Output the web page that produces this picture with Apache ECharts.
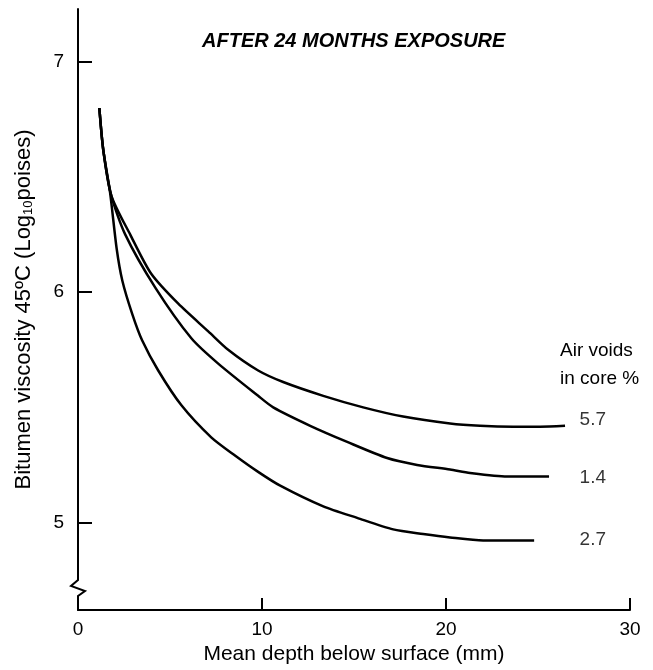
<!DOCTYPE html>
<html>
<head>
<meta charset="utf-8">
<script src="https://cdn.jsdelivr.net/npm/echarts@6/dist/echarts.min.js"></script>
<style>html,body{margin:0;padding:0;background:#fff}#c{width:653px;height:670px}</style>
</head>
<body>
<div id="c"></div>
<script>
// ---- data ----
const titleText = 'AFTER 24 MONTHS EXPOSURE';
const xTicks = [0, 10, 20, 30];
const yTicks = [5, 6, 7];
const legendHeading = 'Air voids\nin core %';
const voidNames = ['5.7', '1.4', '2.7'];

const depth57 = [1.16, 1.37, 1.81, 2.84, 3.98, 5.45, 7.08, 8.16, 9.79, 11.15, 13.33, 15.50, 17.67, 20.22, 21.85, 23.65, 25.11, 26.47];
const visc57  = [6.80, 6.62, 6.42, 6.25, 6.08, 5.95, 5.83, 5.75, 5.66, 5.61, 5.55, 5.50, 5.46, 5.43, 5.42, 5.416, 5.416, 5.42];

const depth14 = [1.16, 1.37, 1.81, 2.57, 4.20, 6.16, 7.62, 9.79, 10.61, 12.62, 14.63, 16.80, 18.43, 20.22, 21.31, 23.32, 25.60];
const visc14  = [6.80, 6.62, 6.42, 6.25, 6.02, 5.80, 5.69, 5.55, 5.50, 5.42, 5.35, 5.28, 5.25, 5.23, 5.215, 5.20, 5.20];

const depth27 = [1.16, 1.37, 1.74, 2.10, 2.41, 2.95, 3.49, 4.36, 5.61, 7.24, 8.55, 9.79, 10.99, 13.33, 15.17, 17.13, 18.76, 20.22, 22.02, 24.79];
const visc27  = [6.80, 6.62, 6.435, 6.19, 6.05, 5.905, 5.79, 5.66, 5.51, 5.37, 5.29, 5.22, 5.16, 5.07, 5.02, 4.97, 4.95, 4.935, 4.922, 4.922];

// label anchors for the air-void values (data coords)
const voidLabelX = [27.26, 27.26, 27.26];
const voidLabelY = [5.444, 5.194, 4.927];

const yBreakValue = 4.72;

const pair = (xs, ys) => xs.map((x, i) => [x, ys[i]]);

const chart = echarts.init(document.getElementById('c'), null, {renderer: 'canvas'});
const FONT = 'Liberation Sans, Arial, Helvetica, sans-serif';
const lineStyle = {color: '#000', width: 2.5};

const option = {
  animation: false,
  backgroundColor: '#fff',
  textStyle: {fontFamily: FONT, color: '#000'},
  title: [
    {text: titleText, left: 197, top: 26,
     textStyle: {fontFamily: FONT, fontSize: 20, fontWeight: 'bold', fontStyle: 'italic', color: '#000'}},
    {text: legendHeading, left: 555, top: 332,
     textStyle: {fontFamily: FONT, fontSize: 19, fontWeight: 'normal', color: '#000', lineHeight: 28}}
  ],
  grid: {left: 78, right: 23, top: 9, bottom: 55, containLabel: false},
  xAxis: {
    type: 'value', min: xTicks[0], max: xTicks[xTicks.length - 1], interval: 10,
    name: 'Mean depth below surface (mm)', nameLocation: 'middle', nameGap: 34,
    nameTextStyle: {fontFamily: FONT, fontSize: 21, color: '#000'},
    axisLine: {show: true, lineStyle: {color: '#000', width: 2}},
    axisTick: {show: true, inside: true, length: 12, lineStyle: {color: '#000', width: 2}},
    axisLabel: {fontFamily: FONT, fontSize: 19, color: '#000', margin: 10},
    splitLine: {show: false}
  },
  yAxis: {
    type: 'value', min: 4.62, max: 7.23,
    name: 'Bitumen viscosity 45ºC (Log{sub|10}poises)', nameLocation: 'middle', nameGap: 43,
    nameTextStyle: {fontFamily: FONT, fontSize: 22, color: '#000',
      rich: {sub: {fontFamily: FONT, fontSize: 13, color: '#000', verticalAlign: 'bottom'}}},
    axisLine: {show: true, lineStyle: {color: '#000', width: 2}},
    axisTick: {show: true, inside: true, length: 14, customValues: yTicks, lineStyle: {color: '#000', width: 2}},
    axisLabel: {fontFamily: FONT, fontSize: 19, color: '#000', margin: 14, customValues: yTicks},
    splitLine: {show: false}
  },
  series: [
    {name: voidNames[0], type: 'line', data: pair(depth57, visc57), showSymbol: false, smooth: 0.25, lineStyle: lineStyle},
    {name: voidNames[1], type: 'line', data: pair(depth14, visc14), showSymbol: false, smooth: 0.25, lineStyle: lineStyle},
    {name: voidNames[2], type: 'line', data: pair(depth27, visc27), showSymbol: false, smooth: 0.25, lineStyle: lineStyle},
    {name: 'labels', type: 'scatter', symbolSize: 0, silent: true,
     data: voidNames.map((n, i) => ({value: [voidLabelX[i], voidLabelY[i]], name: n})),
     label: {show: true, position: 'right', distance: 0, formatter: p => p.name,
             fontFamily: FONT, fontSize: 19, color: '#000'}}
  ]
};
chart.setOption(option);

// axis break zigzag on the y axis
const p = chart.convertToPixel({gridIndex: 0}, [0, yBreakValue]);
const x0 = p[0], y0 = p[1];
chart.setOption({
  graphic: [
    {type: 'line', z: 100, shape: {x1: x0, y1: y0 - 9, x2: x0, y2: y0 + 9}, style: {stroke: '#fff', lineWidth: 5}},
    {type: 'polyline', z: 101, shape: {points: [[x0, y0 - 10], [x0, y0 - 7], [x0 - 7, y0 - 1], [x0 + 7, y0 + 4], [x0, y0 + 9], [x0, y0 + 11]]},
     style: {stroke: '#000', lineWidth: 2, fill: null}}
  ]
});
</script>
</body>
</html>
